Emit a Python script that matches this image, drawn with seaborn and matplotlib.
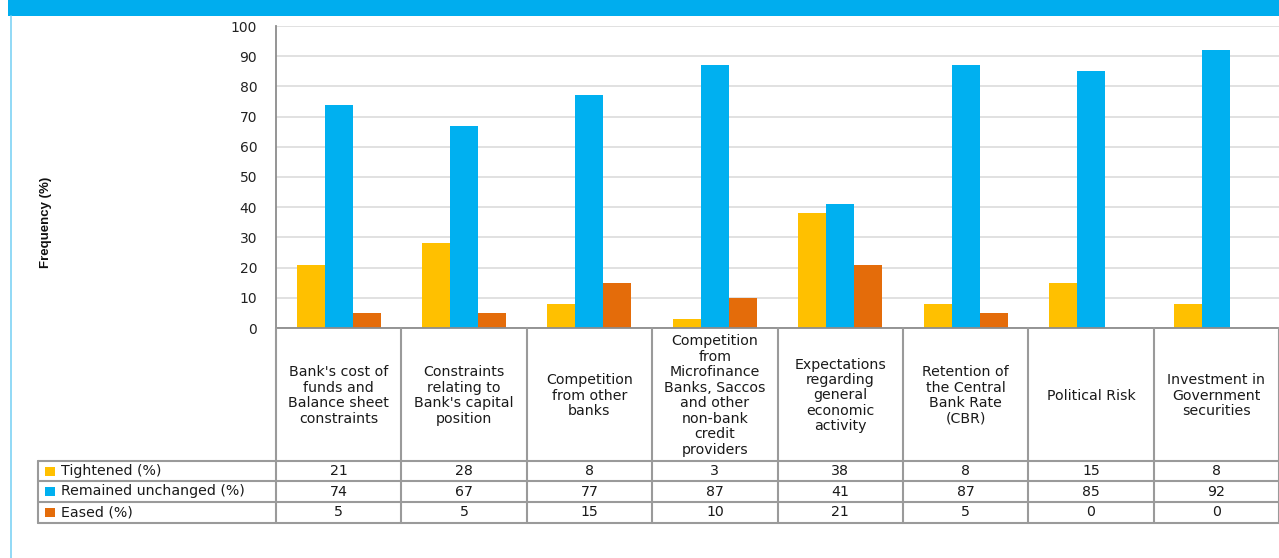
import matplotlib
matplotlib.use("Agg")
import matplotlib.pyplot as plt
import matplotlib.transforms as mtransforms
from matplotlib.patches import Rectangle
from matplotlib.lines import Line2D
import pandas as pd
import seaborn as sns

# Survey factors (table header labels, with their line breaks)
factors = [
    "Bank's cost of\nfunds and\nBalance sheet\nconstraints",
    "Constraints\nrelating to\nBank's capital\nposition",
    "Competition\nfrom other\nbanks",
    "Competition\nfrom\nMicrofinance\nBanks, Saccos\nand other\nnon-bank\ncredit\nproviders",
    "Expectations\nregarding\ngeneral\neconomic\nactivity",
    "Retention of\nthe Central\nBank Rate\n(CBR)",
    "Political Risk",
    "Investment in\nGovernment\nsecurities",
]
series_names = ["Tightened (%)", "Remained unchanged (%)", "Eased (%)"]
tightened = [21, 28, 8, 3, 38, 8, 15, 8]
unchanged = [74, 67, 77, 87, 41, 87, 85, 92]
eased = [5, 5, 15, 10, 21, 5, 0, 0]
y_ticks = [0, 10, 20, 30, 40, 50, 60, 70, 80, 90, 100]
y_label = "Frequency (%)"

colors = ["#FFC000", "#00B0F0", "#E46C0A"]
series_values = [tightened, unchanged, eased]

rows = []
for name, vals in zip(series_names, series_values):
    for f, v in zip(factors, vals):
        rows.append({"factor": f, "response": name, "value": v})
df = pd.DataFrame(rows)

sns.set_theme(style="white")
plt.rcParams["font.family"] = ["DejaVu Sans"]
FS = 10.2

W, H = 1279, 558
fig = plt.figure(figsize=(W / 100, H / 100), dpi=100)

# plot area in pixel terms
left_px, right_px, top_px, bottom_px = 276, 1279, 26, 328
ax = fig.add_axes([left_px / W, 1 - bottom_px / H,
                   (right_px - left_px) / W, (bottom_px - top_px) / H])

sns.barplot(data=df, x="factor", y="value", hue="response",
            order=factors, hue_order=series_names, palette=colors,
            width=0.67, saturation=1, linewidth=0, legend=False, ax=ax,
            errorbar=None)

ax.set_xlim(-0.5, len(factors) - 0.5)
ax.set_ylim(0, 100)
ax.set_yticks(y_ticks)
ax.set_yticklabels([str(t) for t in y_ticks], fontsize=10, color="#222222")
ax.tick_params(axis="y", length=0, pad=13.5)
ax.set_xticks([])
ax.set_xlabel("")
ax.set_ylabel("")
ax.grid(axis="y", color="#DCDCDC", linewidth=1.2)
ax.set_axisbelow(True)
for side in ["top", "right"]:
    ax.spines[side].set_visible(False)
for side in ["left", "bottom"]:
    ax.spines[side].set_color("#8C8C8C")
    ax.spines[side].set_linewidth(1.3)

# y axis title
fig.text(46 / W, 1 - 222 / H, y_label, rotation=90, ha="center", va="center",
         fontsize=9.5, fontweight="bold",
         family=["Liberation Sans", "DejaVu Sans"], color="#111111")

# data table under the plot: x in data units, y in figure pixels
def fy(px):
    return 1 - px / H

blend = mtransforms.blended_transform_factory(ax.transData, fig.transFigure)
grid_col = "#9A9A9A"
header_top, row_tops = 328, [461, 481, 502, 523]
n = len(factors)

for i in range(n + 1):
    x = i - 0.5
    fig.add_artist(Line2D([x, x], [fy(header_top), fy(row_tops[-1])],
                          transform=blend, color=grid_col, lw=1.5, clip_on=False))

legend_left_px = 38
for ypx in row_tops:
    fig.add_artist(Line2D([legend_left_px / W, 1], [fy(ypx), fy(ypx)],
                          transform=fig.transFigure, color=grid_col, lw=1.5))
fig.add_artist(Line2D([legend_left_px / W, legend_left_px / W],
                      [fy(row_tops[0]), fy(row_tops[-1])],
                      transform=fig.transFigure, color=grid_col, lw=1.5))

# category headers
for i, f in enumerate(factors):
    ax.text(i, fy((header_top + row_tops[0]) / 2 + 1), f, transform=blend,
            ha="center", va="center", fontsize=FS, linespacing=1.13,
            color="#1A1A1A", clip_on=False)

# value rows with legend keys
for r, (name, vals, c) in enumerate(zip(series_names, series_values, colors)):
    yc = (row_tops[r] + row_tops[r + 1]) / 2
    fig.add_artist(Rectangle((45 / W, fy(yc + 4.5)), 10 / W, 9 / H,
                             transform=fig.transFigure, color=c, lw=0))
    fig.text(61 / W, fy(yc), name, ha="left", va="center", fontsize=FS,
             color="#1A1A1A")
    for i, v in enumerate(vals):
        ax.text(i, fy(yc), str(v), transform=blend, ha="center", va="center",
                fontsize=FS, color="#1A1A1A", clip_on=False)

# header banner and page rule
fig.add_artist(Rectangle((8 / W, fy(16)), 1 - 8 / W, 16 / H,
                         transform=fig.transFigure, color="#00ADEE", lw=0))
fig.add_artist(Line2D([11 / W, 11 / W], [0, fy(16)], transform=fig.transFigure,
                      color="#7FD3F5", lw=1.2))

fig.savefig("out.png", dpi=100, facecolor="white")
